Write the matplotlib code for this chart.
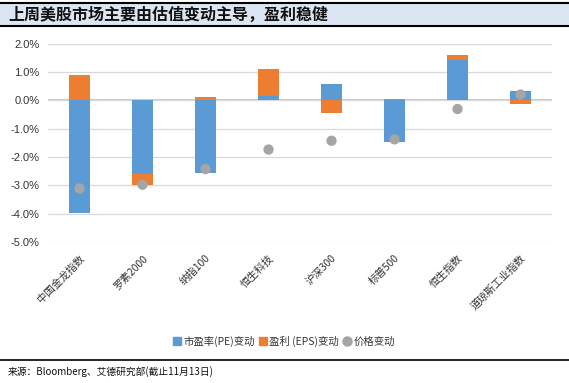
import matplotlib
matplotlib.use("Agg")
import matplotlib.pyplot as plt
from matplotlib.lines import Line2D
from matplotlib.patches import Rectangle, Patch
import numpy as np

plt.rcParams['font.family'] = ['Noto Sans CJK SC', 'DejaVu Sans']

categories = ['中国金龙指数', '罗素2000', '纳指100', '恒生科技', '沪深300', '标普500', '恒生指数', '道琼斯工业指数']
pe_change = [-3.97, -2.59, -2.56, 0.16, 0.58, -1.46, 1.42, 0.33]
eps_change = [0.89, -0.40, 0.12, 0.95, -0.44, 0.04, 0.18, -0.15]
price_change = [-3.11, -2.98, -2.43, -1.74, -1.43, -1.38, -0.31, 0.20]
yticks = [2, 1, 0, -1, -2, -3, -4, -5]
title = '上周美股市场主要由估值变动主导，盈利稳健'
source = '来源：Bloomberg、艾德研究部(截止11月13日)'
legend_labels = ['市盈率(PE)变动', '盈利 (EPS)变动', '价格变动']

blue = '#5b9bd5'
orange = '#ed7d31'
gray = '#a5a5a5'

W, H = 569, 383
fig = plt.figure(figsize=(W / 100, H / 100), dpi=100)

# title band
fig.patches.append(Rectangle((0, 1 - 26 / H), 1, 24 / H, transform=fig.transFigure,
                             facecolor='#dce6f2', edgecolor='none', zorder=0))
fig.add_artist(Line2D([0, 1], [1 - 2.5 / H] * 2, color='black', lw=1.5, transform=fig.transFigure))
fig.add_artist(Line2D([0, 1], [1 - 26 / H] * 2, color='black', lw=1.5, transform=fig.transFigure))
fig.text(8 / W, 1 - 14.5 / H, title, fontsize=11.5, fontweight='bold', va='center', ha='left',
         color='#111111')

# footer
fig.add_artist(Line2D([0, 1], [1 - 360 / H] * 2, color='black', lw=1.2, transform=fig.transFigure))
fig.text(8 / W, 1 - 372 / H, source, fontsize=7, va='center', ha='left', color='#111111')

ax = fig.add_axes([48 / W, 1 - 242 / H, (552 - 48) / W, (242 - 43.5) / H])
x = np.arange(len(categories))
pe = np.array(pe_change)
eps = np.array(eps_change)

pe_bottom = np.zeros_like(pe)
eps_bottom = np.where(np.sign(eps) == np.sign(pe), pe, 0.0)

bw = 0.32
ax.bar(x, pe, bw, bottom=pe_bottom, color=blue, zorder=2)
ax.bar(x, eps, bw, bottom=eps_bottom, color=orange, zorder=2)
ax.scatter(x, price_change, s=55, color=gray, zorder=3, edgecolors='none')

ax.set_xlim(-0.5, len(categories) - 0.5)
ax.set_ylim(-5, 2)
ax.set_yticks(yticks)
ax.set_yticklabels([f'{v:.1f}%' for v in yticks], fontsize=8, color='#333333',
                   family=['Liberation Sans', 'DejaVu Sans'])
ax.yaxis.grid(True, color='#d9d9d9', lw=0.9, zorder=0)
ax.axhline(0, color='#bfbfbf', lw=1.2, zorder=1)
ax.set_xticks(x)
ax.set_xticklabels(categories, rotation=45, ha='right', rotation_mode='anchor', fontsize=7.5,
                   color='#333333')
ax.tick_params(axis='both', length=0, pad=6)
ax.tick_params(axis='x', pad=8)
for s in ax.spines.values():
    s.set_visible(False)

handles = [
    Line2D([], [], marker='s', ls='none', color=blue, markersize=5.5),
    Line2D([], [], marker='s', ls='none', color=orange, markersize=5.5),
    Line2D([], [], marker='o', ls='none', color=gray, markersize=6.5),
]
leg = fig.legend(handles, legend_labels, loc='center', bbox_to_anchor=(284 / W, 1 - 341 / H), ncol=3,
                 frameon=False, fontsize=7.5, handlelength=0.8,
                 handletextpad=0.2, columnspacing=0.4)
for t in leg.get_texts():
    t.set_color('#333333')

fig.savefig('out.png', dpi=100)
